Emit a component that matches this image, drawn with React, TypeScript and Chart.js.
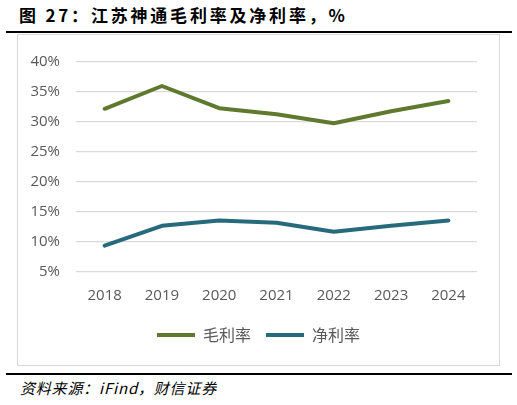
import React, { useEffect, useRef } from "react";
import { Chart, registerables } from "chart.js";

Chart.register(...registerables);

const categories = ["2018", "2019", "2020", "2021", "2022", "2023", "2024"];
const grossMargin = [32.2, 36.0, 32.3, 31.3, 29.8, 31.8, 33.5];
const netMargin = [9.4, 12.7, 13.6, 13.2, 11.7, 12.7, 13.6];
const seriesNames = ["毛利率", "净利率"];
const yTicks = [5, 10, 15, 20, 25, 30, 35, 40];

const GREEN = "#5f7a2e";
const BLUE = "#266a7c";
const TICK_FONT = "'Open Sans', 'Noto Sans CJK SC', sans-serif";

export default function App() {
  const ref = useRef<HTMLCanvasElement | null>(null);

  useEffect(() => {
    document.body.style.margin = "0";
    if (!ref.current) return;
    const mkDs = (label: string, data: number[], color: string) => ({
      label,
      data,
      borderColor: color,
      backgroundColor: color,
      borderWidth: 4,
      pointRadius: 0,
      pointStyle: "line",
      tension: 0,
      borderCapStyle: "round",
      borderJoinStyle: "round",
    });
    const chart = new Chart(ref.current, {
      type: "line",
      data: {
        labels: categories,
        datasets: [
          mkDs(seriesNames[0], grossMargin, GREEN),
          mkDs(seriesNames[1], netMargin, BLUE),
        ] as any,
      },
      options: {
        animation: false,
        responsive: false,
        maintainAspectRatio: false,
        devicePixelRatio: 1,
        layout: { padding: { left: 0, right: 0, top: 27, bottom: 12 } },
        plugins: {
          tooltip: { enabled: false },
          legend: {
            position: "bottom",
            labels: {
              usePointStyle: true,
              pointStyleWidth: 38,
              boxHeight: 4,
              padding: 15,
              color: "#595959",
              font: { family: "'Noto Sans CJK SC', sans-serif", size: 16 },
            },
          },
        },
        scales: {
          x: {
            offset: true,
            grid: { display: false },
            border: { display: false },
            ticks: {
              color: "#595959",
              font: { family: TICK_FONT, size: 15 },
              padding: 7,
            },
          },
          y: {
            min: yTicks[0],
            max: yTicks[yTicks.length - 1],
            afterBuildTicks: (axis: any) => {
              axis.ticks = yTicks.map((v) => ({ value: v }));
            },
            afterFit: (axis: any) => {
              axis.width = 58;
            },
            grid: { color: "#d9d9d9", lineWidth: 1.2, drawTicks: false },
            border: { display: false },
            ticks: {
              color: "#595959",
              font: { family: TICK_FONT, size: 15 },
              padding: 16,
              callback: (v: any) => v + "%",
            },
          },
          y2: {
            position: "right",
            display: true,
            grid: { display: false },
            border: { display: false },
            ticks: { display: false },
            afterFit: (axis: any) => {
              axis.width = 22;
            },
          },
        },
      },
    });
    return () => chart.destroy();
  }, []);

  return (
    <div style={{ position: "relative", width: 517, height: 405, background: "#fff" }}>
      <div
        style={{
          position: "absolute",
          left: 19,
          top: 3,
          fontFamily: "'Noto Sans CJK SC', sans-serif",
          fontWeight: 700,
          fontSize: 17,
          letterSpacing: 2.8,
          color: "#000",
          whiteSpace: "nowrap",
          lineHeight: "24px",
        }}
      >
        图 27：江苏神通毛利率及净利率，%
      </div>
      <div style={{ position: "absolute", left: 6, top: 31, width: 506, height: 2, background: "#000" }} />
      <div
        style={{
          position: "absolute",
          left: 17,
          top: 34,
          width: 481,
          height: 330,
          border: "1px solid #d9d9d9",
        }}
      >
        <canvas ref={ref} width={481} height={330} style={{ display: "block" }} />
      </div>
      <div style={{ position: "absolute", left: 6, top: 373, width: 506, height: 1.5, background: "#000" }} />
      <div
        style={{
          position: "absolute",
          left: 20,
          top: 378,
          fontFamily: "'Noto Sans CJK SC', serif",
          fontStyle: "italic",
          fontSize: 15,
          letterSpacing: 0.8,
          color: "#000",
          whiteSpace: "nowrap",
          lineHeight: "20px",
        }}
      >
        资料来源：iFind，财信证券
      </div>
    </div>
  );
}
